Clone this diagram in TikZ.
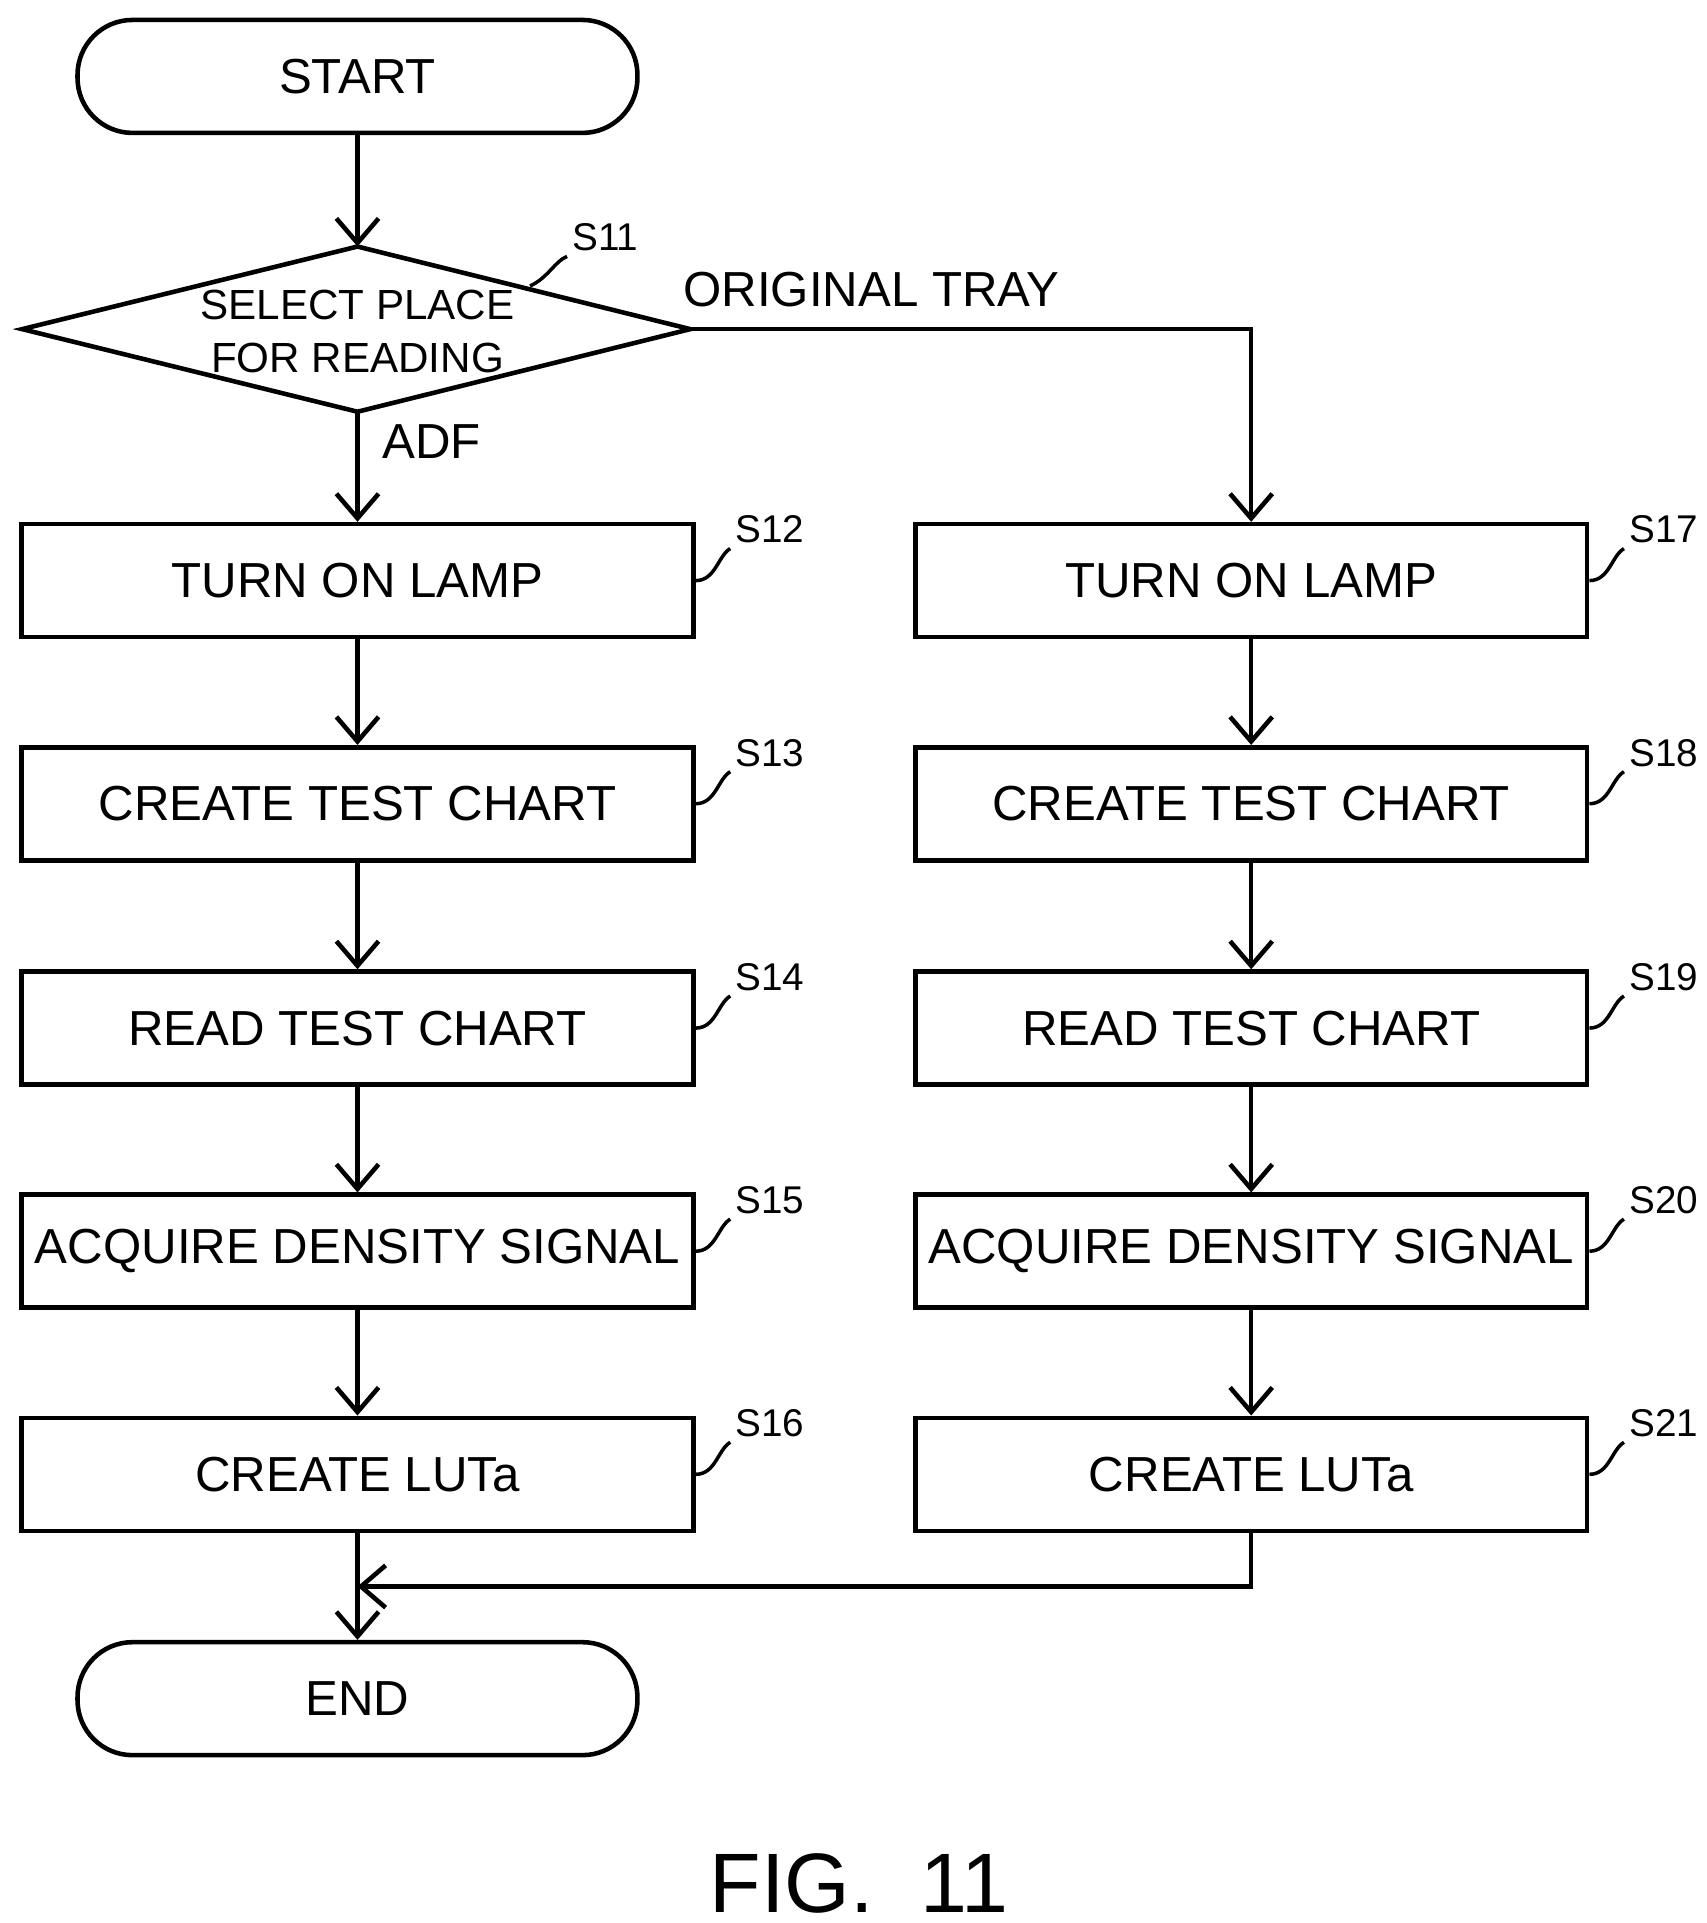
\documentclass[tikz,border=0pt]{standalone}
\usepackage{fontspec}
\setmainfont{Liberation Sans}
\usetikzlibrary{arrows.meta}
\tikzset{box/.style={draw,line width=1.3pt,minimum width=6.72cm,minimum height=1.13cm,font=\fontsize{14}{17}\selectfont}}
\tikzset{term/.style={box,minimum width=5.6cm,rounded corners=0.55cm}}
\tikzset{lbl/.style={font=\fontsize{11}{13}\selectfont}}
\tikzset{flow/.style={line width=1.3pt,-{Straight Barb[length=7pt,width=12pt]}}}

\begin{document}
\begin{tikzpicture}
                [x=0.012327cm,y=-0.012327cm]
                \useasboundingbox (0,0) rectangle (1384,1560);
                \node [term] (start) at (290,62) {START};
                % decision
                \coordinate (sel-n) at (290,200);
                \coordinate (sel-s) at (290,334);
                \coordinate (sel-e) at (560,267);
                \coordinate (sel-w) at (18,267);
                \draw [line width=1.3pt] (sel-n) -- (sel-e) -- (sel-s) -- (sel-w) -- cycle;
                \node [align=center,font=\fontsize{12}{15}\selectfont] (sel) at (290,269) {SELECT PLACE\\FOR READING};
                \node [term] (end) at (290,1378) {END};
                
                \foreach \name/\y/\txt/\l/\r in {1/471/TURN ON LAMP/S12/S17,2/652/CREATE TEST CHART/S13/S18,3/834/READ TEST CHART/S14/S19,4/1015/ACQUIRE DENSITY SIGNAL/S15/S20,5/1196/CREATE LUTa/S16/S21}
                {
                \node [box] (a\name) at (290,\y) {\txt};
                \node [box] (b\name) at (1015,\y) {\txt};
                \draw [line width=1pt] (a\name.east) .. controls +(16,0) and +(-10,6) .. ++(28,-26) node [lbl,anchor=south west,inner sep=1pt] {\l};
                \draw [line width=1pt] (b\name.east) .. controls +(16,0) and +(-10,6) .. ++(28,-26) node [lbl,anchor=south west,inner sep=1pt] {\r};
                }
                \draw [line width=1pt] (430,232) .. controls (445,225) and (450,212) .. (460,208) node [lbl,anchor=south west,inner sep=1pt] {S11};
                
                \node [font=\fontsize{14}{17}\selectfont] (adf) at (350,358) {ADF};
                \node [font=\fontsize{14}{17}\selectfont] (tray) at (707,235) {ORIGINAL TRAY};
                \coordinate (c1) at (1015,267);
                \coordinate (c2) at (1015,1287);
                \coordinate (c3) at (290,1287);
                
                \draw [flow] (start) -- (sel-n);
                \draw [flow] (sel-s) -- (a1);
                \draw [flow] (sel-e) -- (c1) -- (b1);
                \foreach \from/\to in {1/2,2/3,3/4,4/5}
                {
                \draw [flow] (a\from) -- (a\to);
                \draw [flow] (b\from) -- (b\to);
                }
                \draw [flow] (a5) -- (end);
                \draw [flow] (b5) -- (c2) -- (c3);
                
                \node [font=\fontsize{24}{28}\selectfont] (fig) at (697,1528) {FIG.\ \ 11};
            \end{tikzpicture}
\end{document}
